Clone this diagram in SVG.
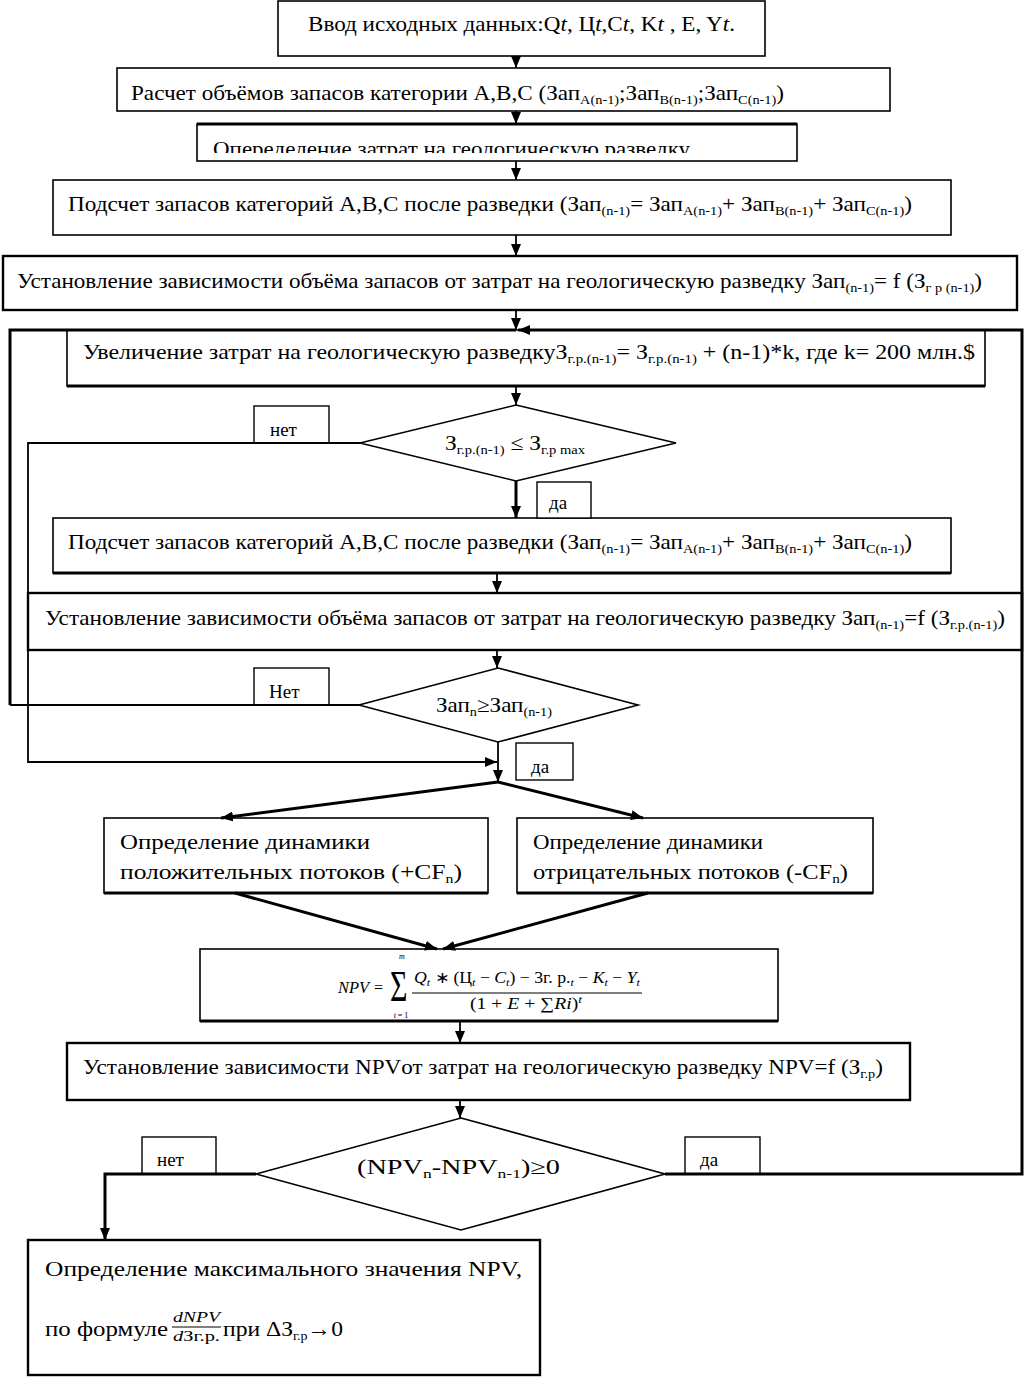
<svg xmlns="http://www.w3.org/2000/svg" width="1024" height="1378" viewBox="0 0 1024 1378">
<style>
.b{fill:#fff;stroke:#000;stroke-width:1.6}
.bk{fill:#fff;stroke:#000;stroke-width:2.4}
.t{font-family:"Liberation Serif","Times New Roman",serif;fill:#000}
.m{font-size:21px}
.s{font-size:13px}
.i{font-style:italic}
.lt{font-size:19px}
.c{fill:none;stroke:#000;stroke-width:1.8}
.k{fill:none;stroke:#000;stroke-width:3}
.lb{fill:#fff;stroke:#000;stroke-width:1.4}
</style>
<defs>
<marker id="a" markerUnits="userSpaceOnUse" markerWidth="12" markerHeight="10" refX="12" refY="5" orient="auto">
<path d="M0,0 L12,5 L0,10 z" fill="#000"/>
</marker>
<clipPath id="clip3"><rect x="197" y="124" width="600" height="29"/></clipPath>
</defs>

<g id="n1">
<rect class="b" x="278" y="1" width="487" height="55"/>
<text class="t m" x="308" y="31" textLength="427" lengthAdjust="spacingAndGlyphs">Ввод исходных данных:Q<tspan class="i">t</tspan>, Ц<tspan class="i">t</tspan>,C<tspan class="i">t</tspan>, K<tspan class="i">t</tspan> , E, Y<tspan class="i">t</tspan>.</text>
</g>
<g id="n2">
<rect class="b" x="117" y="68" width="773" height="43"/>
<text class="t m" x="131" y="100" textLength="653" lengthAdjust="spacingAndGlyphs">Расчет объёмов запасов категории А,В,С (Зап<tspan class="s" dy="4">A(n-1)</tspan><tspan dy="-4">;Зап</tspan><tspan class="s" dy="4">B(n-1)</tspan><tspan dy="-4">;Зап</tspan><tspan class="s" dy="4">C(n-1)</tspan><tspan dy="-4">)</tspan></text>
</g>
<g id="n3">
<rect class="b" x="197" y="124" width="600" height="37"/>
<line x1="197" y1="124" x2="797" y2="124" stroke="#000" stroke-width="3"/>
<text class="t m" x="213" y="156" textLength="477" lengthAdjust="spacingAndGlyphs" clip-path="url(#clip3)">Опеределение затрат на геологическую разведку</text>
</g>
<g id="n4">
<rect class="b" x="53" y="180" width="898" height="55"/>
<text class="t m" x="68" y="211" textLength="844" lengthAdjust="spacingAndGlyphs">Подсчет запасов категорий А,В,С после разведки (Зап<tspan class="s" dy="4">(n-1)</tspan><tspan dy="-4">= Зап</tspan><tspan class="s" dy="4">A(n-1)</tspan><tspan dy="-4">+ Зап</tspan><tspan class="s" dy="4">B(n-1)</tspan><tspan dy="-4">+ Зап</tspan><tspan class="s" dy="4">C(n-1)</tspan><tspan dy="-4">)</tspan></text>
</g>
<g id="n5">
<rect class="bk" x="3" y="256" width="1014" height="54"/>
<text class="t m" x="17" y="288" textLength="965" lengthAdjust="spacingAndGlyphs">Установление зависимости объёма запасов от затрат на геологическую разведку Зап<tspan class="s" dy="4">(n-1)</tspan><tspan dy="-4">= f (З</tspan><tspan class="s" dy="4">г р (n-1)</tspan><tspan dy="-4">)</tspan></text>
</g>
<g id="n6">
<rect class="b" x="67" y="330" width="918" height="56"/>
<line x1="67" y1="386" x2="985" y2="386" stroke="#000" stroke-width="3"/>
<text class="t m" x="83" y="359" textLength="892" lengthAdjust="spacingAndGlyphs">Увеличение затрат на геологическую разведкуЗ<tspan class="s" dy="4">г.р.(n-1)</tspan><tspan dy="-4">= З</tspan><tspan class="s" dy="4">г.р.(n-1)</tspan><tspan dy="-4"> + (n-1)*k, где k= 200 млн.$</tspan></text>
</g>
<g id="d1">
<polygon class="b" points="516,405 676,443 516,481 360,443"/>
<text class="t m" x="445" y="450" textLength="140" lengthAdjust="spacingAndGlyphs">З<tspan class="s" dy="4">г.р.(n-1)</tspan><tspan dy="-4"> ≤ З</tspan><tspan class="s" dy="4">г.р max</tspan></text>
</g>
<g id="n7">
<rect class="b" x="53" y="518" width="898" height="55"/>
<line x1="53" y1="573" x2="951" y2="573" stroke="#000" stroke-width="3"/>
<text class="t m" x="68" y="549" textLength="844" lengthAdjust="spacingAndGlyphs">Подсчет запасов категорий А,В,С после разведки (Зап<tspan class="s" dy="4">(n-1)</tspan><tspan dy="-4">= Зап</tspan><tspan class="s" dy="4">A(n-1)</tspan><tspan dy="-4">+ Зап</tspan><tspan class="s" dy="4">B(n-1)</tspan><tspan dy="-4">+ Зап</tspan><tspan class="s" dy="4">C(n-1)</tspan><tspan dy="-4">)</tspan></text>
</g>
<g id="n8">
<rect class="bk" x="28" y="593" width="994" height="57"/>
<text class="t m" x="45" y="625" textLength="960" lengthAdjust="spacingAndGlyphs">Установление зависимости объёма запасов от затрат на геологическую разведку Зап<tspan class="s" dy="4">(n-1)</tspan><tspan dy="-4">=f (З</tspan><tspan class="s" dy="4">г.р.(n-1)</tspan><tspan dy="-4">)</tspan></text>
</g>
<g id="d2">
<polygon class="b" points="498,668 638,705 498,742 359,705"/>
<text class="t m" x="436" y="712" textLength="116" lengthAdjust="spacingAndGlyphs">Зап<tspan class="s" dy="4">n</tspan><tspan dy="-4">≥Зап</tspan><tspan class="s" dy="4">(n-1)</tspan></text>
</g>
<g id="n9">
<rect class="b" x="104" y="818" width="384" height="75"/>
<line x1="104" y1="893" x2="488" y2="893" stroke="#000" stroke-width="3"/>
<text class="t m" x="120" y="849" textLength="250" lengthAdjust="spacingAndGlyphs">Определение динамики</text>
<text class="t m" x="120" y="879" textLength="342" lengthAdjust="spacingAndGlyphs">положительных потоков  (+CF<tspan class="s" dy="4">n</tspan><tspan dy="-4">)</tspan></text>
</g>
<g id="n10">
<rect class="b" x="517" y="818" width="356" height="75"/>
<line x1="517" y1="893" x2="873" y2="893" stroke="#000" stroke-width="3"/>
<text class="t m" x="533" y="849" textLength="230" lengthAdjust="spacingAndGlyphs">Определение динамики</text>
<text class="t m" x="533" y="879" textLength="315" lengthAdjust="spacingAndGlyphs">отрицательных потоков  (-CF<tspan class="s" dy="4">n</tspan><tspan dy="-4">)</tspan></text>
</g>
<g id="n11">
<rect class="b" x="200" y="949" width="578" height="72"/>
<line x1="200" y1="1021" x2="778" y2="1021" stroke="#000" stroke-width="3"/>
<text class="t i" x="338" y="993" style="font-size:16px" textLength="31" lengthAdjust="spacingAndGlyphs">NPV</text>
<text class="t" x="374" y="993" style="font-size:16px">=</text>
<text class="t" style="font-size:30px" transform="translate(390,1001) scale(1,1.5)">Σ</text>
<text class="t i" x="402" y="959" style="font-size:8px" text-anchor="middle">m</text>
<text class="t" x="401" y="1018" style="font-size:8px" text-anchor="middle"><tspan class="i">t</tspan> = 1</text>
<text class="t" x="414" y="983" style="font-size:16px" textLength="226" lengthAdjust="spacingAndGlyphs"><tspan class="i">Q</tspan><tspan class="i" font-size="11" dy="3">t</tspan><tspan dy="-3"> ∗ (Ц</tspan><tspan class="i" font-size="11" dy="3">t</tspan><tspan dy="-3"> − </tspan><tspan class="i">C</tspan><tspan class="i" font-size="11" dy="3">t</tspan><tspan dy="-3">) − 3г. р.</tspan><tspan class="i" font-size="11" dy="3">t</tspan><tspan dy="-3"> − </tspan><tspan class="i">K</tspan><tspan class="i" font-size="11" dy="3">t</tspan><tspan dy="-3"> − </tspan><tspan class="i">Y</tspan><tspan class="i" font-size="11" dy="3">t</tspan></text>
<line x1="412" y1="993" x2="642" y2="993" stroke="#000" stroke-width="1.2"/>
<text class="t" x="470" y="1009" style="font-size:16px" textLength="112" lengthAdjust="spacingAndGlyphs">(1 + <tspan class="i">E</tspan> + ∑<tspan class="i">Ri</tspan>)<tspan class="i" font-size="11" dy="-6">t</tspan></text>
</g>
<g id="n12">
<rect class="bk" x="67" y="1043" width="843" height="57"/>
<text class="t m" x="83" y="1074" textLength="800" lengthAdjust="spacingAndGlyphs">Установление зависимости NPVот затрат на геологическую разведку NPV=f (З<tspan class="s" dy="4">г.р</tspan><tspan dy="-4">)</tspan></text>
</g>
<g id="d3">
<polygon class="b" points="461,1118 665,1174 461,1230 256,1174" stroke-width="2.2"/>
<text class="t m" x="357" y="1174" textLength="203" lengthAdjust="spacingAndGlyphs">(NPV<tspan class="s" dy="4">n</tspan><tspan dy="-4">-NPV</tspan><tspan class="s" dy="4">n-1</tspan><tspan dy="-4">)≥0</tspan></text>
</g>
<g id="n13">
<rect class="bk" x="28" y="1240" width="512" height="135"/>
<text class="t" x="45" y="1276" style="font-size:22px" textLength="477" lengthAdjust="spacingAndGlyphs">Определение максимального значения NPV,</text>
<text class="t" x="45" y="1336" style="font-size:22px" textLength="123" lengthAdjust="spacingAndGlyphs">по формуле</text>
<text class="t i" x="173" y="1322" style="font-size:15px" textLength="47" lengthAdjust="spacingAndGlyphs">dNPV</text>
<line x1="172" y1="1327" x2="221" y2="1327" stroke="#000" stroke-width="1.2"/>
<text class="t" x="173" y="1341" style="font-size:15px" textLength="47" lengthAdjust="spacingAndGlyphs"><tspan class="i">d</tspan>Зг.р.</text>
<text class="t" x="223" y="1336" style="font-size:22px" textLength="120" lengthAdjust="spacingAndGlyphs">при ΔЗ<tspan font-size="13" dy="4">г.р</tspan><tspan dy="-4">→0</tspan></text>
</g>

<g id="labels">
<rect class="lb" x="254" y="406" width="75" height="37"/>
<text class="t lt" x="270" y="436">нет</text>
<rect class="lb" x="537" y="482" width="54" height="36"/>
<text class="t lt" x="549" y="509">да</text>
<rect class="lb" x="254" y="668" width="75" height="37"/>
<text class="t lt" x="269" y="698">Нет</text>
<rect class="lb" x="516" y="743" width="57" height="37"/>
<text class="t lt" x="531" y="773">да</text>
<rect class="lb" x="142" y="1137" width="74" height="37"/>
<text class="t lt" x="157" y="1166">нет</text>
<rect class="lb" x="685" y="1137" width="75" height="37"/>
<text class="t lt" x="700" y="1166">да</text>
</g>

<g id="connectors">
<line class="c" x1="516" y1="56" x2="516" y2="68" marker-end="url(#a)"/>
<line class="c" x1="516" y1="111" x2="516" y2="124" marker-end="url(#a)"/>
<line class="c" x1="516" y1="161" x2="516" y2="180" marker-end="url(#a)"/>
<line class="c" x1="516" y1="235" x2="516" y2="256" marker-end="url(#a)"/>
<line class="c" x1="516" y1="310" x2="516" y2="330" marker-end="url(#a)"/>
<path class="k" d="M10,705 L10,330 L516,330"/>
<path class="k" d="M665,1174 L1022,1174 L1022,330 L518,330" marker-end="url(#a)"/>
<line class="c" x1="516" y1="386" x2="516" y2="405" marker-end="url(#a)"/>
<path class="c" d="M360,443 L28,443 L28,762 L497,762" marker-end="url(#a)"/>
<line class="k" x1="516" y1="481" x2="516" y2="518" marker-end="url(#a)"/>
<line class="c" x1="497" y1="573" x2="497" y2="593" marker-end="url(#a)"/>
<line class="c" x1="497" y1="650" x2="497" y2="668" marker-end="url(#a)"/>
<line class="c" x1="359" y1="705" x2="10" y2="705"/>
<line class="c" x1="498" y1="742" x2="498" y2="782" marker-end="url(#a)"/>
<line class="k" x1="498" y1="782" x2="221" y2="818" marker-end="url(#a)"/>
<line class="k" x1="498" y1="782" x2="643" y2="818" marker-end="url(#a)"/>
<line class="k" x1="235" y1="893" x2="437" y2="949" marker-end="url(#a)"/>
<line class="k" x1="648" y1="893" x2="443" y2="949" marker-end="url(#a)"/>
<line class="c" x1="460" y1="1021" x2="460" y2="1043" marker-end="url(#a)"/>
<line class="c" x1="460" y1="1100" x2="460" y2="1118" marker-end="url(#a)"/>
<path class="k" d="M256,1174 L105,1174 L105,1240" marker-end="url(#a)"/>
</g>
</svg>
